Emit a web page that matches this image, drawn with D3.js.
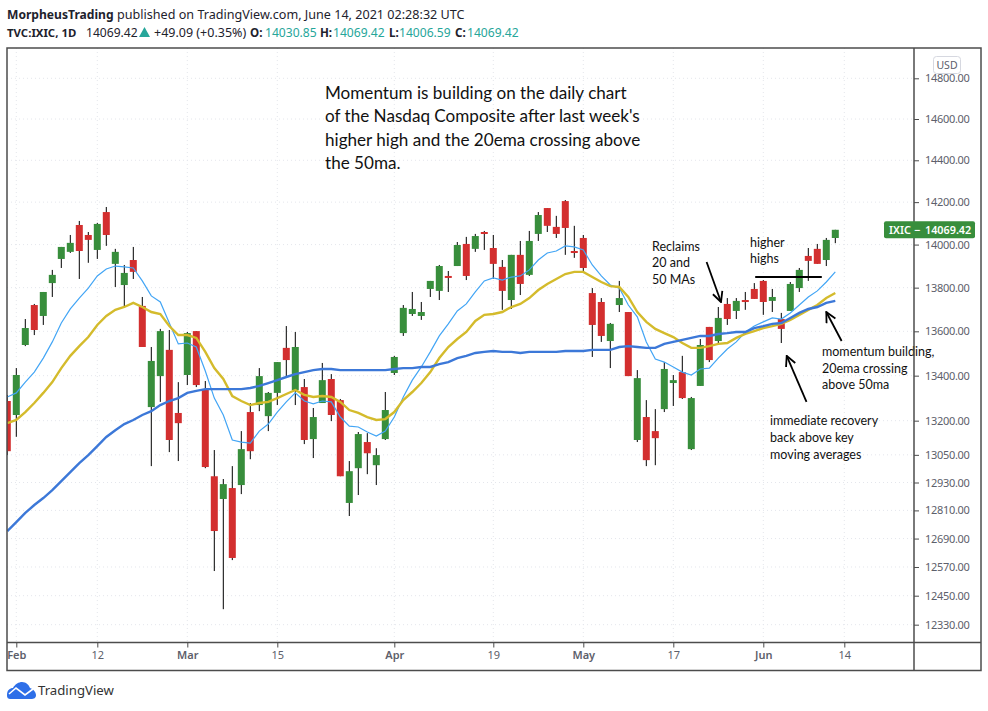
<!DOCTYPE html>
<html>
<head>
<meta charset="utf-8">
<script src="https://cdnjs.cloudflare.com/ajax/libs/d3/7.8.5/d3.min.js"></script>
<style>
  html, body { margin: 0; padding: 0; background: #fff; }
  svg { display: block; }
  .hdr { font-family: "Noto Sans", sans-serif; fill: #1e222d; }
  .note { font-family: Lato, sans-serif; fill: #111; }
  .tick text { font-family: "Noto Sans", sans-serif; font-size: 11px; fill: #5d606b; }
</style>
</head>
<body>
<div id="chart"></div>
<script>
"use strict";

const opens = [13287,13225,13538,13720,13670,13821,13933,13966,14092,14045,13975,14153,13910,13812,13928,13716,13260,13398,13516,13234,13403,13601,13336,12957,12859,12906,12919,13238,13269,13220,13323,13525,13336,13349,13119,13278,13385,13291,12842,12992,13106,13005,13119,13412,13592,13679,13670,13794,13785,13854,13900,14003,13980,14059,13984,13896,13743,13952,13859,14050,14172,14083,14205,13970,14031,13775,13734,13556,13720,13688,13115,13216,13154,13251,13367,13416,13075,13354,13620,13556,13725,13693,13743,13794,13831,13739,13656,13693,13798,13947,13980,13928,14030.85];
const highs = [13314,13434,13656,13725,13780,13882,13989,14045,14111,14059,14102,14177,13980,13905,13989,13757,13529,13611,13606,13371,13597,13601,13376,13071,12945,13001,13154,13278,13434,13327,13461,13624,13597,13385,13256,13457,13407,13296,13023,13150,13145,13079,13327,13489,13720,13780,13734,13831,13905,13877,14012,14036,14050,14064,14045,13928,13952,14017,14064,14153,14172,14135,14210,14088,14045,13798,13752,13638,13831,13688,13425,13291,13251,13461,13403,13489,13305,13565,13620,13711,13752,13752,13780,13821,13835,13794,13684,13826,13891,13984,14003,14031,14069.42];
const lows = [13049,13129,13533,13583,13629,13757,13891,13961,13840,13915,13933,13994,13803,13711,13840,13529,13001,13283,13062,13023,13358,13349,12992,12553,12394,12599,12880,13031,13242,13154,13269,13394,13269,13097,13036,13278,13198,12957,12786,12876,12966,12919,13115,13403,13579,13670,13652,13757,13743,13780,13900,13835,13966,13975,13840,13698,13702,13766,13854,14017,14059,14031,13952,13938,13877,13484,13552,13434,13688,13398,13106,13001,13005,13238,13265,13296,13071,13354,13461,13547,13629,13656,13698,13748,13675,13688,13547,13693,13780,13831,13910,13900,14006.59];
const closes = [13066,13403,13615,13606,13780,13859,13989,14008,13970,14022,14097,14045,13966,13868,13873,13529,13466,13601,13115,13189,13592,13358,12997,12722,12923,12608,13075,13066,13398,13323,13461,13470,13529,13115,13216,13380,13225,12957,12979,13141,13057,13049,13247,13484,13707,13702,13688,13831,13900,13845,13998,13854,14040,14050,13910,13785,13952,13817,14017,14139,14088,14050,14078,13961,13891,13629,13579,13634,13752,13398,13389,13027,13123,13430,13380,13300,13300,13538,13470,13661,13656,13739,13734,13748,13734,13757,13611,13817,13882,13924,13910,14022,14069.42];

const ma10 = [13305,13323,13371,13416,13479,13552,13638,13702,13752,13798,13854,13886,13900,13896,13891,13831,13762,13734,13638,13543,13547,13529,13421,13300,13225,13115,13106,13101,13154,13185,13238,13283,13323,13287,13274,13287,13283,13216,13176,13172,13150,13132,13154,13216,13305,13380,13439,13507,13579,13634,13693,13725,13780,13831,13845,13835,13849,13854,13882,13928,13961,13970,13994,13989,13975,13905,13854,13812,13798,13720,13666,13552,13475,13461,13439,13416,13403,13430,13434,13479,13520,13552,13597,13624,13643,13661,13656,13684,13720,13757,13785,13826,13873];
const ema20 = [13189,13203,13238,13278,13323,13371,13434,13489,13533,13574,13629,13670,13698,13711,13730,13711,13688,13679,13624,13583,13583,13570,13507,13434,13385,13309,13287,13269,13278,13283,13300,13318,13336,13314,13305,13309,13305,13283,13247,13234,13216,13203,13207,13238,13291,13327,13367,13416,13479,13529,13565,13597,13647,13675,13679,13688,13711,13725,13752,13789,13817,13840,13863,13873,13873,13849,13826,13807,13803,13757,13688,13643,13611,13592,13574,13547,13525,13525,13533,13543,13547,13570,13588,13601,13615,13624,13634,13652,13675,13698,13720,13752,13775];
const ma50 = [12722,12760,12799,12833,12863,12897,12936,12975,13014,13049,13088,13128,13158,13185,13203,13225,13242,13269,13287,13300,13323,13332,13340,13340,13340,13340,13340,13345,13354,13367,13380,13394,13407,13416,13425,13430,13430,13425,13425,13425,13425,13425,13425,13430,13434,13434,13439,13439,13452,13461,13479,13489,13502,13507,13511,13507,13507,13502,13507,13507,13507,13507,13511,13511,13511,13516,13516,13516,13529,13533,13529,13525,13525,13543,13552,13561,13570,13579,13579,13588,13592,13597,13597,13615,13624,13634,13638,13661,13684,13702,13711,13730,13739];

const dateTicks = [1, 10, 20, 30, 43, 54, 64, 74, 84, 93];
const dateLabels = ["Feb", "12", "Mar", "15", "Apr", "19", "May", "17", "Jun", "14"];
const priceTicks = [14800, 14600, 14400, 14200, 14000, 13800, 13600, 13400, 13200, 13050, 12930, 12810, 12690, 12570, 12450, 12330];
const lastPrice = 14069.42;

const width = 988, height = 711;
const paneL = 7, paneR = 914, paneT = 48, paneB = 642.5, outerR = 981, outerB = 670.5;
const green = "#388e3c", red = "#d32f2f", frame = "#4c4c4c";

const svg = d3.select("#chart").append("svg").attr("width", width).attr("height", height);

const x = d3.scaleLinear().domain([0, 93]).range([7.3, 844.3]);
const y = d3.scaleLog().domain([14800, 12450]).range([78.3, 595.7]);

// header
const hdr = svg.append("g");
function hdrText(px, py, txt, size, bold, color) {
  hdr.append("text").attr("class", "hdr").attr("x", px).attr("y", py)
    .attr("font-size", size)
    .attr("font-weight", bold ? 700 : 400)
    .style("fill", color || null)
    .text(txt);
}
hdrText(7, 19, "MorpheusTrading", 12.1, true);
hdrText(117, 19, "published on TradingView.com, June 14, 2021 02:28:32 UTC", 12.6);
hdrText(7, 37, "TVC:IXIC, 1D", 11.4, true);
hdrText(86, 37, "14069.42", 12.1);
hdrText(154, 37, "+49.09 (+0.35%)", 12.5);
[["O:", 250, "14030.85", 265], ["H:", 320, "14069.42", 333], ["L:", 389, "14006.59", 399], ["C:", 455, "14069.42", 467]]
  .forEach(d => {
    hdrText(d[1], 37, d[0], 11.6, true);
    hdrText(d[3], 37, d[2], 12.1, false, "#26a69a");
  });
hdr.append("path").attr("d", "M139,37L150,37L144.5,27Z").attr("fill", "#26a69a");

// gridlines
const grid = svg.append("g");
grid.selectAll(".v").data(dateTicks).join("line")
  .attr("x1", d => x(d)).attr("x2", d => x(d)).attr("y1", paneT).attr("y2", paneB)
  .attr("stroke", "#e4e6ec").attr("stroke-dasharray", "1,3");
grid.selectAll(".h").data(priceTicks).join("line")
  .attr("x1", paneL).attr("x2", paneR).attr("y1", d => y(d)).attr("y2", d => y(d))
  .attr("stroke", "#e4e6ec").attr("stroke-dasharray", "1,3");

// candles, clipped to the pane
svg.append("clipPath").attr("id", "pane").append("rect")
  .attr("x", paneL).attr("y", paneT).attr("width", paneR - paneL).attr("height", paneB - paneT);
const pane = svg.append("g").attr("clip-path", "url(#pane)");

const idx = d3.range(opens.length);
const colorOf = i => closes[i] >= opens[i] ? green : red;

pane.selectAll(".wick").data(idx).join("line")
  .attr("x1", i => x(i)).attr("x2", i => x(i))
  .attr("y1", i => y(highs[i])).attr("y2", i => y(lows[i]))
  .attr("stroke", "#000").attr("stroke-width", 1);

pane.selectAll(".body").data(idx).join("rect")
  .attr("x", i => x(i) - 3.5).attr("width", 7)
  .attr("y", i => y(Math.max(opens[i], closes[i])))
  .attr("height", i => Math.max(2, Math.abs(y(opens[i]) - y(closes[i]))))
  .attr("fill", colorOf);

// moving averages
const line = d3.line().x((d, i) => x(i)).y(d => y(d));
pane.append("path").attr("d", line(ma10)).attr("fill", "none")
  .attr("stroke", "#42a5f5").attr("stroke-width", 1.2);
pane.append("path").attr("d", line(ema20)).attr("fill", "none")
  .attr("stroke", "#d4bb2c").attr("stroke-width", 2.4);
pane.append("path").attr("d", line(ma50)).attr("fill", "none")
  .attr("stroke", "#3c78d8").attr("stroke-width", 2.4);

// drawn annotations, placed by candle index and price
const defs = svg.append("defs");
defs.append("marker").attr("id", "arrow").attr("viewBox", "0 0 12 12")
  .attr("refX", 11).attr("refY", 6).attr("markerWidth", 12).attr("markerHeight", 12)
  .attr("markerUnits", "userSpaceOnUse").attr("orient", "auto")
  .append("path").attr("d", "M1,1L11,6L1,11").attr("fill", "none")
  .attr("stroke", "#000").attr("stroke-width", 1.8);

const arrowFrom = [[77.7, 13919], [88.8, 13283], [92.7, 13556]];
const arrowTo = [[79.3, 13734], [86.6, 13489], [91.0, 13688]];
arrowFrom.forEach((a, k) => {
  svg.append("line")
    .attr("x1", x(a[0])).attr("y1", y(a[1]))
    .attr("x2", x(arrowTo[k][0])).attr("y2", y(arrowTo[k][1]))
    .attr("stroke", "#000").attr("stroke-width", 1.8)
    .attr("marker-end", "url(#arrow)");
});
svg.append("line")
  .attr("x1", x(83.1)).attr("x2", x(90.5)).attr("y1", y(13849)).attr("y2", y(13849))
  .attr("stroke", "#000").attr("stroke-width", 2);

function note(px, py, step, size, lines) {
  lines.forEach((t, k) => {
    svg.append("text").attr("class", "note").attr("x", px).attr("y", py + k * step)
      .attr("font-size", size).text(t);
  });
}
note(325, 98.5, 23.5, 17.1, [
  "Momentum is building on the daily chart",
  "of the Nasdaq Composite after last week's",
  "higher high and the 20ema crossing above",
  "the 50ma."
]);
note(652, 250.5, 16.8, 12.5, ["Reclaims", "20 and", "50 MAs"]);
note(750, 247, 16.3, 12.5, ["higher", "highs"]);
note(822, 356, 16.5, 12.5, ["momentum building,", "20ema crossing", "above 50ma"]);
note(770, 425, 16.8, 12.5, ["immediate recovery", "back above key", "moving averages"]);

// axes
const xAxis = d3.axisBottom(x).tickValues(dateTicks).tickSize(5).tickPadding(4)
  .tickFormat(d => dateLabels[dateTicks.indexOf(d)]);
const xg = svg.append("g").attr("transform", `translate(0,${paneB})`).call(xAxis);
const yAxis = d3.axisRight(y).tickValues(priceTicks).tickSize(5).tickPadding(6)
  .tickFormat(d3.format(".2f"));
const yg = svg.append("g").attr("transform", `translate(${paneR},0)`).call(yAxis);
[xg, yg].forEach(g => {
  g.select(".domain").remove();
  g.selectAll(".tick line").attr("stroke", frame);
});
xg.selectAll(".tick text").attr("font-weight", (d, i) => i % 2 === 0 ? 600 : 400);
yg.selectAll(".tick text").style("letter-spacing", "-0.3px");

// frame
svg.append("rect").attr("x", paneL).attr("y", paneT)
  .attr("width", outerR - paneL).attr("height", outerB - paneT)
  .attr("fill", "none").attr("stroke", frame).attr("stroke-width", 1.5);
svg.append("line").attr("x1", paneL).attr("x2", outerR).attr("y1", paneB).attr("y2", paneB)
  .attr("stroke", frame).attr("stroke-width", 1.5);
svg.append("line").attr("x1", paneR).attr("x2", paneR).attr("y1", paneT).attr("y2", outerB)
  .attr("stroke", frame).attr("stroke-width", 1.5);

// USD badge
svg.append("rect").attr("x", 933.5).attr("y", 56.5).attr("width", 27).attr("height", 17).attr("rx", 3)
  .attr("fill", "#fff").attr("stroke", "#d6d8e0");
svg.append("text").attr("x", 947).attr("y", 68.5).attr("text-anchor", "middle")
  .attr("font-family", "Noto Sans, sans-serif").attr("font-size", 10.5).attr("fill", "#5d606b").text("USD");

// last price label
svg.append("rect").attr("x", 884).attr("y", y(lastPrice) - 8.5).attr("width", 91).attr("height", 17).attr("rx", 2)
  .attr("fill", green);
[[889, "IXIC"], [914, "\u2212"], [925, lastPrice.toFixed(2)]].forEach(d => {
  svg.append("text").attr("x", d[0]).attr("y", y(lastPrice) + 4).attr("fill", "#fff")
    .attr("font-family", "Noto Sans, sans-serif").attr("font-size", 10.8).attr("font-weight", 600)
    .text(d[1]);
});

// TradingView logo
svg.append("path")
  .attr("d", "M7,695 C7,690 10,688 13,688 C15,684 19,682 22,682 C26,682 29,685 30,688 C33,689 36,692 36,695 C36,698 34,699 31,699 L11,699 C8,699 7,698 7,695Z")
  .attr("fill", "#2e6fe8");
svg.append("path").attr("d", "M9,694 L16,688 L25,695 L33,689")
  .attr("fill", "none").attr("stroke", "#fff").attr("stroke-width", 1.6);
svg.append("text").attr("x", 38).attr("y", 695).attr("font-family", "Noto Sans, sans-serif")
  .attr("font-size", 13.2).attr("fill", "#333").text("TradingView");
</script>
</body>
</html>
